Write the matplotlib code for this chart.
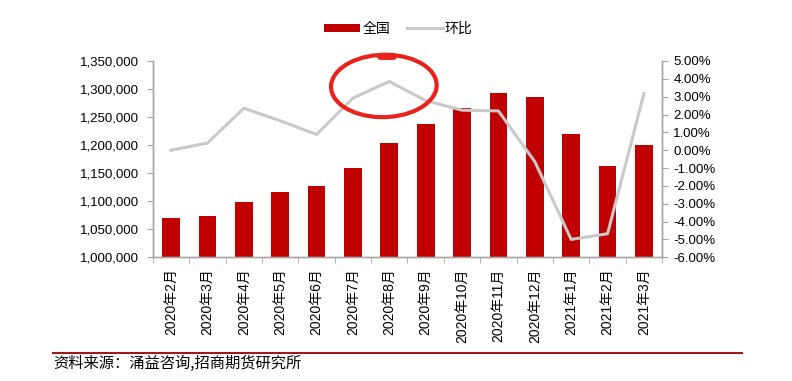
import matplotlib.pyplot as plt
from matplotlib.patches import Ellipse
from matplotlib.ticker import FuncFormatter, MultipleLocator

plt.rcParams['font.family'] = ['Liberation Sans', 'Noto Sans CJK SC', 'DejaVu Sans']

# data
months = ['2020年2月', '2020年3月', '2020年4月', '2020年5月', '2020年6月', '2020年7月',
          '2020年8月', '2020年9月', '2020年10月', '2020年11月', '2020年12月',
          '2021年1月', '2021年2月', '2021年3月']
national = [1069500, 1073600, 1098600, 1117000, 1127000, 1160000, 1204000,
            1238000, 1266000, 1293500, 1285000, 1220000, 1163000, 1200000]
mom = [0.00, 0.40, 2.35, 1.65, 0.88, 2.92, 3.85, 2.78, 2.24, 2.20, -0.64,
       -5.00, -4.68, 3.17]

bar_color = '#C00000'
line_color = '#C9C9C9'
axis_color = '#A6A6A6'

fig = plt.figure(figsize=(7.92, 3.81), dpi=100)
ax = fig.add_axes([0.193, 0.3247, 0.643, 0.5153])
ax2 = ax.twinx()

x = list(range(len(months)))
bars = ax.bar(x, national, width=0.49, color=bar_color, zorder=2, label='全国')
line, = ax2.plot(x, mom, color=line_color, lw=2.2, zorder=3, label='环比')

ax.set_xlim(-0.5, len(months) - 0.5)
ax.set_ylim(1000000, 1350000)
ax.yaxis.set_major_locator(MultipleLocator(50000))
ax.yaxis.set_major_formatter(FuncFormatter(lambda v, p: f'{v:,.0f}'))
ax2.set_ylim(-6, 5)
ax2.yaxis.set_major_locator(MultipleLocator(1))
ax2.yaxis.set_major_formatter(FuncFormatter(lambda v, p: f'{v:.2f}%'))

# draw the line on top of the bars
ax.set_zorder(1)
ax2.set_zorder(2)
ax.patch.set_visible(False)

ax.set_xticks(x)
ax.set_xticklabels(months, rotation=90, fontsize=10, color='#000000')
ax.set_xticks([i - 0.5 for i in x] + [len(months) - 0.5], minor=True)
ax.tick_params(axis='x', which='major', length=0, pad=8)
ax.tick_params(axis='x', which='minor', length=4, color=axis_color, direction='out')
ax.tick_params(axis='y', labelsize=9.5, length=4, color=axis_color, pad=6)
ax2.tick_params(axis='y', labelsize=9.5, length=4, color=axis_color, pad=4)

for a in (ax, ax2):
    a.spines['top'].set_visible(False)
    for s in ('left', 'right', 'bottom'):
        a.spines[s].set_color(axis_color)
        a.spines[s].set_linewidth(1)

# hand drawn red ring around the summer peak
ring = Ellipse((5.85, 3.6), 2.9, 3.5, angle=-4, fill=False, ec='#E8231E', lw=3,
               clip_on=False, zorder=5)
ax2.add_patch(ring)
ax2.plot([5.75, 6.1], [5.25, 5.25], color='#E8231E', lw=5, solid_capstyle='round',
         clip_on=False, zorder=5)

fig.legend([bars, line], ['全国', '环比'], loc='center', bbox_to_anchor=(0.503, 0.925),
           ncol=2, frameon=False, handlelength=2.6, handleheight=0.5,
           handletextpad=0.15, columnspacing=1.2,
           prop={'family': ['Noto Sans CJK SC'], 'size': 10})

fig.add_artist(plt.Line2D([0.067, 0.937], [0.073, 0.073], color='#9B1B1B', lw=1.5))
fig.text(0.067, 0.045, '资料来源：涌益咨询,招商期货研究所', fontsize=11,
         family=['Noto Sans CJK SC'], va='center', ha='left')

fig.savefig('out.png', dpi=100)
